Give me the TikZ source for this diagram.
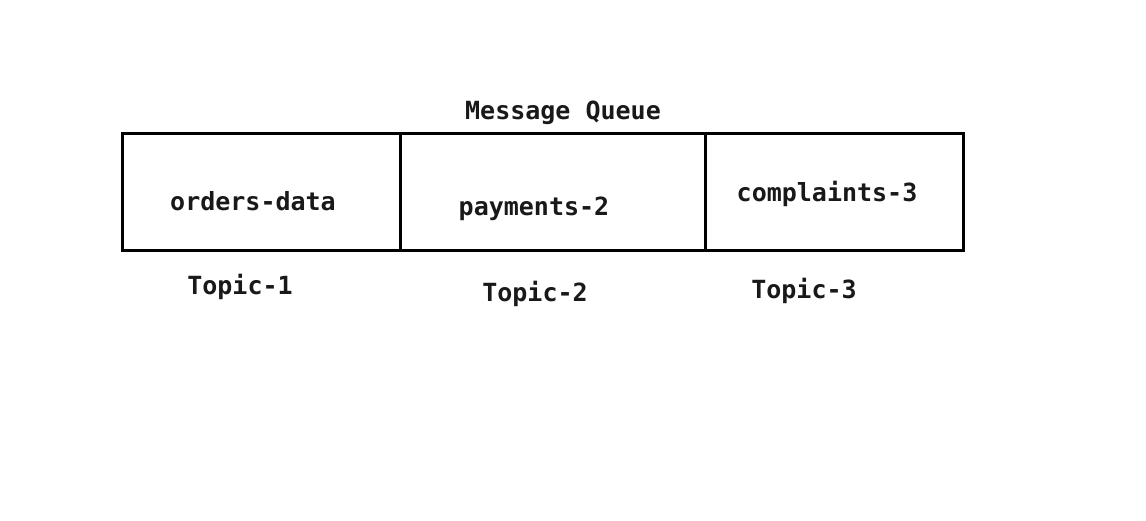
\documentclass[tikz,border=0pt]{standalone}
\usepackage{fontspec}
\setmonofont{DejaVu Sans Mono}
\begin{document}
\begin{tikzpicture}[x=1pt,y=-1pt,
  cell/.style={draw=black,line width=2.6pt,minimum height=117pt,inner sep=0pt,anchor=north west},
  lbl/.style={font=\ttfamily\bfseries\fontsize{25}{30}\selectfont,anchor=base,inner sep=0pt,text=black!90}]
\useasboundingbox (0,0) rectangle (1146,521);
\node[cell,minimum width=278pt] (c1) at (121,132) {};
\node[cell,minimum width=305pt] (c2) at (399,132) {};
\node[cell,minimum width=258pt] (c3) at (704,132) {};
\node[lbl] (mq) at (563,120) {Message Queue};
\node[lbl] (t1text) at (253,211) {orders-data};
\node[lbl] (t2text) at (534,216) {payments-2};
\node[lbl] (t3text) at (827,202) {complaints-3};
\node[lbl] (t1) at (240,295) {Topic-1};
\node[lbl] (t2) at (535,302) {Topic-2};
\node[lbl] (t3) at (804,299) {Topic-3};
\end{tikzpicture}
\end{document}
